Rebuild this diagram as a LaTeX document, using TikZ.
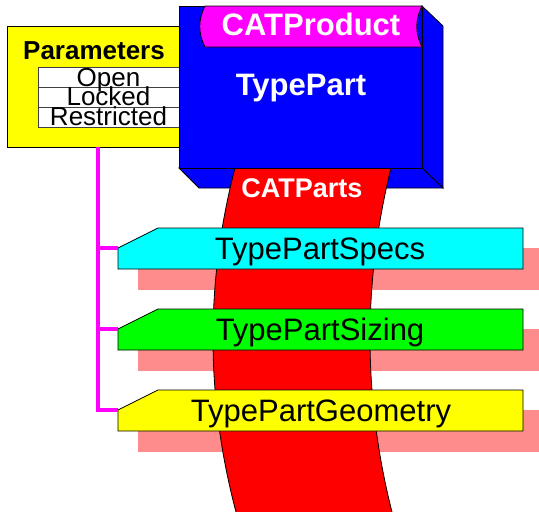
\documentclass[tikz,border=0pt]{standalone}
\usepackage{fontspec}
\setmainfont{Liberation Sans}
\definecolor{shadowpink}{RGB}{255,140,140}
\definecolor{pyellow}{RGB}{255,255,0}
\definecolor{pblue}{RGB}{0,0,255}
\definecolor{pmag}{RGB}{255,0,255}
\definecolor{pred}{RGB}{255,0,0}
\definecolor{pcyan}{RGB}{0,255,255}
\definecolor{pgreen}{RGB}{0,255,0}
\tikzset{
  outl/.style={draw=black, line width=0.8pt, line join=miter},
  shad/.style={fill=shadowpink, draw=none},
  conn/.style={draw=pmag, line width=3.5pt},
  tablabel/.style={anchor=base, inner sep=0pt, font=\fontsize{31}{31}\selectfont, text=black},
  boldwhite/.style={anchor=base, inner sep=0pt, text=white},
  rowtext/.style={anchor=base, inner sep=0pt, font=\fontsize{26}{26}\selectfont, text=black},
  rowbox/.style={fill=white, draw=black!75, line width=0.8pt}
}
\begin{document}
\begin{tikzpicture}[x=1pt,y=-1pt]
\useasboundingbox (0,0) rectangle (539,512);
% Parameters box
\draw[outl, fill=pyellow] (7,26) rectangle (185,147);
\node[anchor=base, inner sep=0pt, font=\fontsize{26}{26}\selectfont\bfseries] (params) at (94,59) {Parameters};
\draw[rowbox] (38,67) rectangle (182,87);
\draw[rowbox] (38,87) rectangle (182,107);
\draw[rowbox] (38,107) rectangle (182,127);
\node[rowtext] (open) at (108.5,86) {Open};
\node[rowtext] (locked) at (108.5,105.5) {Locked};
\node[rowtext] (restricted) at (108.5,125.5) {Restricted};
\coordinate (pb) at (98,147);
% Blue 3D box
\draw[outl, fill=pblue] (422,6) -- (443,26) -- (443,188) -- (422,168) -- cycle;
\draw[outl, fill=pblue] (179,168) -- (199,188) -- (443,188) -- (422,168) -- cycle;
\draw[outl, fill=pblue] (179,6) rectangle (422,168);
% CATProduct tab
\draw[outl, fill=pmag] (205,6) -- (422,6) .. controls (415,20) and (415,33) .. (422,47) -- (205,47) .. controls (198,33) and (198,20) .. (205,6) -- cycle;
\node[boldwhite, font=\fontsize{31}{31}\selectfont\bfseries] (catproduct) at (311,35) {CATProduct};
\node[boldwhite, font=\fontsize{31}{31}\selectfont\bfseries] (typepart) at (301,95) {TypePart};
% shadows
\fill[shad] (138,248) rectangle (545,290);
\fill[shad] (138,329) rectangle (545,371);
\fill[shad] (138,410) rectangle (545,452);
% red band
\fill[pred] (235,168) .. controls (205.3,282.7) and (205.7,397.3) .. (236,512)
  -- (392,512) .. controls (363,397.3) and (362.7,282.7) .. (391,168) -- cycle;
\draw[line width=0.8pt] (235,168) .. controls (205.3,282.7) and (205.7,397.3) .. (236,512);
\draw[line width=0.8pt] (391,168) .. controls (362.7,282.7) and (363,397.3) .. (392,512);
\draw[line width=0.8pt] (235,168) -- (391,168);
\node[boldwhite, font=\fontsize{27}{27}\selectfont\bfseries] (catparts) at (302,197) {CATParts};
% tabs
\draw[outl, fill=pcyan] (118,248) -- (158,228) -- (523,228) -- (523,269) -- (118,269) -- cycle;
\draw[outl, fill=pgreen] (118,329) -- (158,309) -- (523,309) -- (523,350) -- (118,350) -- cycle;
\draw[outl, fill=pyellow] (118,410) -- (158,390) -- (523,390) -- (523,431) -- (118,431) -- cycle;
\coordinate (s1) at (118,248);
\coordinate (s2) at (118,329);
\coordinate (s3) at (118,410);
\node[tablabel] (specs) at (320,259) {TypePartSpecs};
\node[tablabel] (sizing) at (320,340) {TypePartSizing};
\node[tablabel] (geometry) at (321,421) {TypePartGeometry};
% connectors
\draw[conn] (pb) |- (s3);
\draw[conn] (s1 -| pb) -- (s1);
\draw[conn] (s2 -| pb) -- (s2);
\end{tikzpicture}
\end{document}
